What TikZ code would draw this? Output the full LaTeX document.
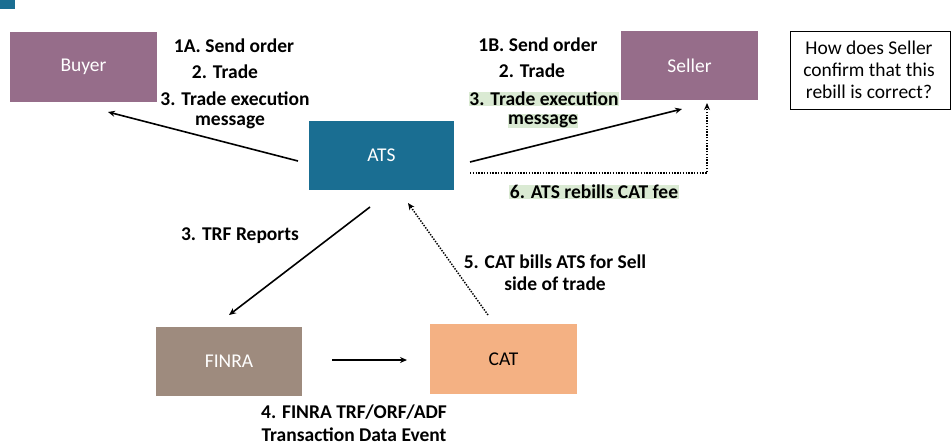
\documentclass[tikz,border=0pt]{standalone}
\usepackage{fontspec}
\setmainfont{Carlito}
\usetikzlibrary{arrows.meta}
\definecolor{purp}{RGB}{150,109,138}
\definecolor{atsblue}{RGB}{26,110,146}
\definecolor{finra}{RGB}{158,139,126}
\definecolor{cat}{RGB}{244,177,131}
\definecolor{hl}{RGB}{218,234,211}
\tikzset{
  box/.style={draw=none, minimum width=#1, inner sep=0pt, font=\fontsize{19.5}{23}\selectfont},
  lbl/.style={font=\bfseries\fontsize{19.5}{23}\selectfont, inner sep=0.5pt},
  hlbl/.style={lbl, fill=hl},
  qtxt/.style={font=\fontsize{19.5}{23}\selectfont, inner sep=0pt},
  arr/.style={line width=1.6pt, -{Stealth[length=7pt,width=6pt]}},
  darr/.style={line width=1.5pt, dash pattern=on 1.4pt off 1.4pt, -{Stealth[length=7pt,width=6pt]}},
}
\begin{document}
\begin{tikzpicture}[x=1pt,y=-1pt]
\useasboundingbox (0,0) rectangle (952,445);
\fill[atsblue] (0,0) rectangle (15,9);
\node[box=147pt, minimum height=70pt, fill=purp, text=white] (Buyer) at (83.5,66.5) {Buyer};
\node[box=137pt, minimum height=69pt, fill=purp, text=white] (Seller) at (689.5,65.5) {Seller};
\node[box=145pt, minimum height=69pt, fill=atsblue, text=white] (ATS) at (381.5,155.5) {ATS};
\node[box=146pt, minimum height=69pt, fill=finra, text=white] (FINRA) at (229,361.5) {FINRA};
\node[box=147pt, minimum height=70pt, fill=cat, text=black] (CAT) at (503.5,359) {CAT};
\node[draw=black, line width=0.8pt, minimum width=160pt, minimum height=78pt, inner sep=0pt] (Q) at (870,70) {};
\node[qtxt] at (869,48) {How does Seller};
\node[qtxt] at (869,70) {confirm that this};
\node[qtxt] at (869,92) {rebill is correct?};
% labels left
\node[lbl] at (234,46) {1A. Send order};
\node[lbl] at (225,72) {2. Trade};
\node[lbl] at (235,99) {3. Trade execution};
\node[lbl] at (230,122) {message};
% labels right
\node[lbl] at (538,45) {1B. Send order};
\node[lbl] at (532,71) {2. Trade};
\node[hlbl] at (544,99) {3. Trade execution};
\node[hlbl] at (543,121) {message};
\node[hlbl] at (594,192) {6. ATS rebills CAT fee};
\node[lbl] at (240,236) {3. TRF Reports};
\node[lbl] at (555,262) {5. CAT bills ATS for Sell};
\node[lbl] at (555,284) {side of trade};
\node[lbl] at (354,412) {4. FINRA TRF/ORF/ADF};
\node[lbl] at (354,435) {Transaction Data Event};
% connector end points
\coordinate (ab1) at (298,161);
\coordinate (ab2) at (108,112);
\coordinate (as1) at (470,162);
\coordinate (as2) at (682,109);
\coordinate (ad1) at (470,173);
\coordinate (ad2) at (707,173);
\coordinate (ad3) at (707,103);
\coordinate (af1) at (370,207);
\coordinate (af2) at (229,315);
\coordinate (ca1) at (488,315);
\coordinate (ca2) at (408,203);
\coordinate (fc1) at (332,360);
\coordinate (fc2) at (407,360);
\draw[arr] (ab1) -- (ab2);
\draw[arr] (as1) -- (as2);
\draw[darr] (ad1) -- (ad2) -- (ad3);
\draw[arr] (af1) -- (af2);
\draw[darr] (ca1) -- (ca2);
\draw[arr] (fc1) -- (fc2);
\end{tikzpicture}
\end{document}
